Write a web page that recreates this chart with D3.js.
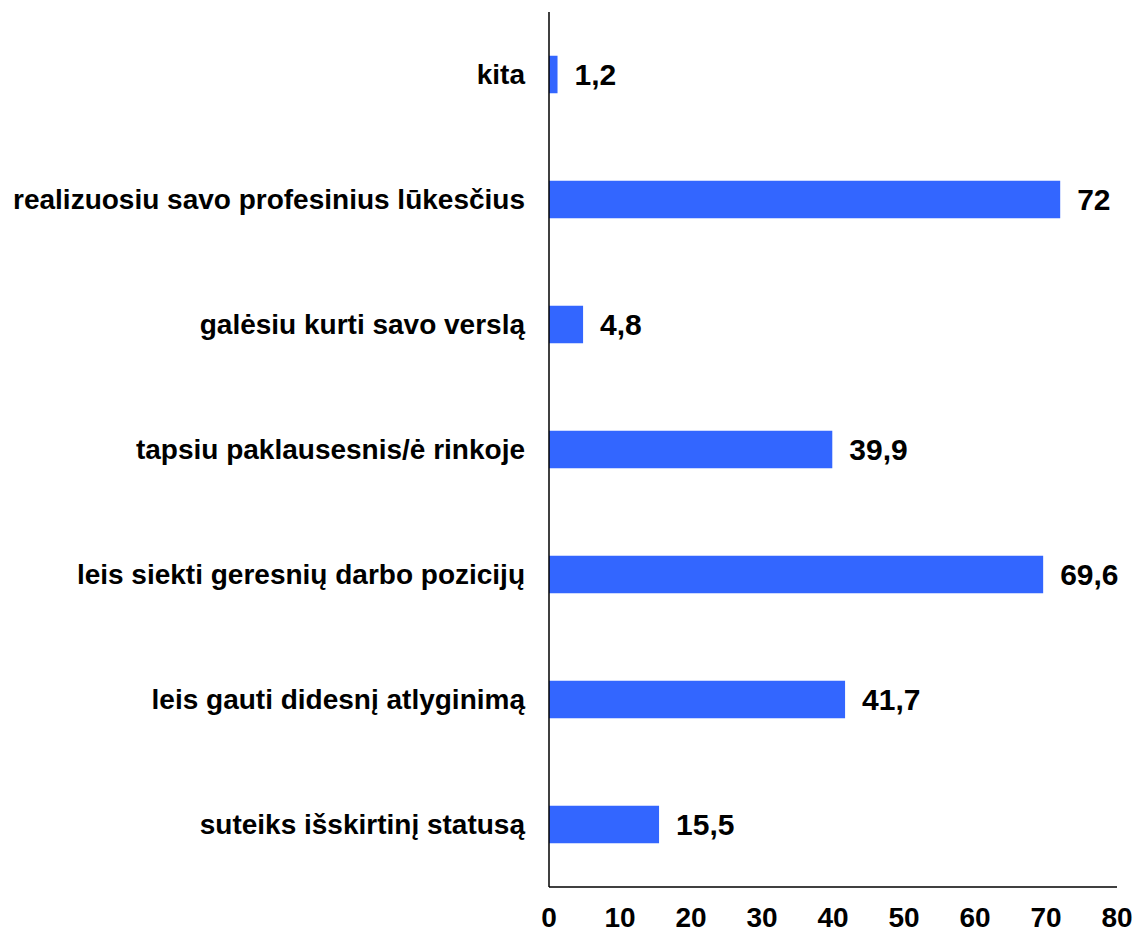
<!DOCTYPE html>
<html>
<head>
<meta charset="utf-8">
<script src="https://cdn.jsdelivr.net/npm/d3@7"></script>
<style>
  body { margin: 0; background: #fff; }
  text { font-family: "Liberation Sans", Arial, sans-serif; font-weight: bold; fill: #000; }
</style>
</head>
<body>
<div id="chart"></div>
<script>
const categories = [
  'kita',
  'realizuosiu savo profesinius lūkesčius',
  'galėsiu kurti savo verslą',
  'tapsiu paklausesnis/ė rinkoje',
  'leis siekti geresnių darbo pozicijų',
  'leis gauti didesnį atlyginimą',
  'suteiks išskirtinį statusą'
]
const values = [1.2, 72, 4.8, 39.9, 69.6, 41.7, 15.5]
const ticks = [0, 10, 20, 30, 40, 50, 60, 70, 80]

const width = 1134
const height = 933
const margin = {top: 12, right: 17, bottom: 46, left: 549}

const svg = d3.select('#chart')
    .append('svg')
    .attr('width', width)
    .attr('height', height)

const x = d3.scaleLinear()
    .domain([0, 80])
    .range([margin.left, width - margin.right])

const y = d3.scaleBand()
    .domain(categories)
    .range([margin.top, height - margin.bottom])
    .paddingInner(0.7)
    .paddingOuter(0.35)

const fmt = v => String(v).replace('.', ',')

// bars
svg.selectAll('.bar')
    .data(values)
    .enter()
    .append('rect')
    .attr('class', 'bar')
    .attr('x', x(0))
    .attr('y', (d, i) => y(categories[i]))
    .attr('width', d => x(d) - x(0))
    .attr('height', y.bandwidth())
    .style('fill', '#3366ff')

// value labels
svg.selectAll('.value')
    .data(values)
    .enter()
    .append('text')
    .attr('class', 'value')
    .attr('x', d => x(d) + 17)
    .attr('y', (d, i) => y(categories[i]) + y.bandwidth() / 2)
    .attr('dy', '0.34em')
    .style('font-size', '30px')
    .text(fmt)

// category labels
svg.selectAll('.cat')
    .data(categories)
    .enter()
    .append('text')
    .attr('class', 'cat')
    .attr('x', margin.left - 24)
    .attr('y', d => y(d) + y.bandwidth() / 2)
    .attr('dy', '0.34em')
    .style('text-anchor', 'end')
    .style('font-size', '28px')
    .text(d => d)

// axis lines
svg.append('line')
    .attr('x1', x(0)).attr('x2', x(0))
    .attr('y1', margin.top).attr('y2', height - margin.bottom)
    .style('stroke', '#000').style('stroke-width', 1.5)

svg.append('line')
    .attr('x1', x(0)).attr('x2', x(80))
    .attr('y1', height - margin.bottom).attr('y2', height - margin.bottom)
    .style('stroke', '#000').style('stroke-width', 1.5)

// tick labels
svg.selectAll('.tick')
    .data(ticks)
    .enter()
    .append('text')
    .attr('class', 'tick')
    .attr('x', d => x(d))
    .attr('y', 927)
    .style('text-anchor', 'middle')
    .style('font-size', '28px')
    .text(d => d)
</script>
</body>
</html>
